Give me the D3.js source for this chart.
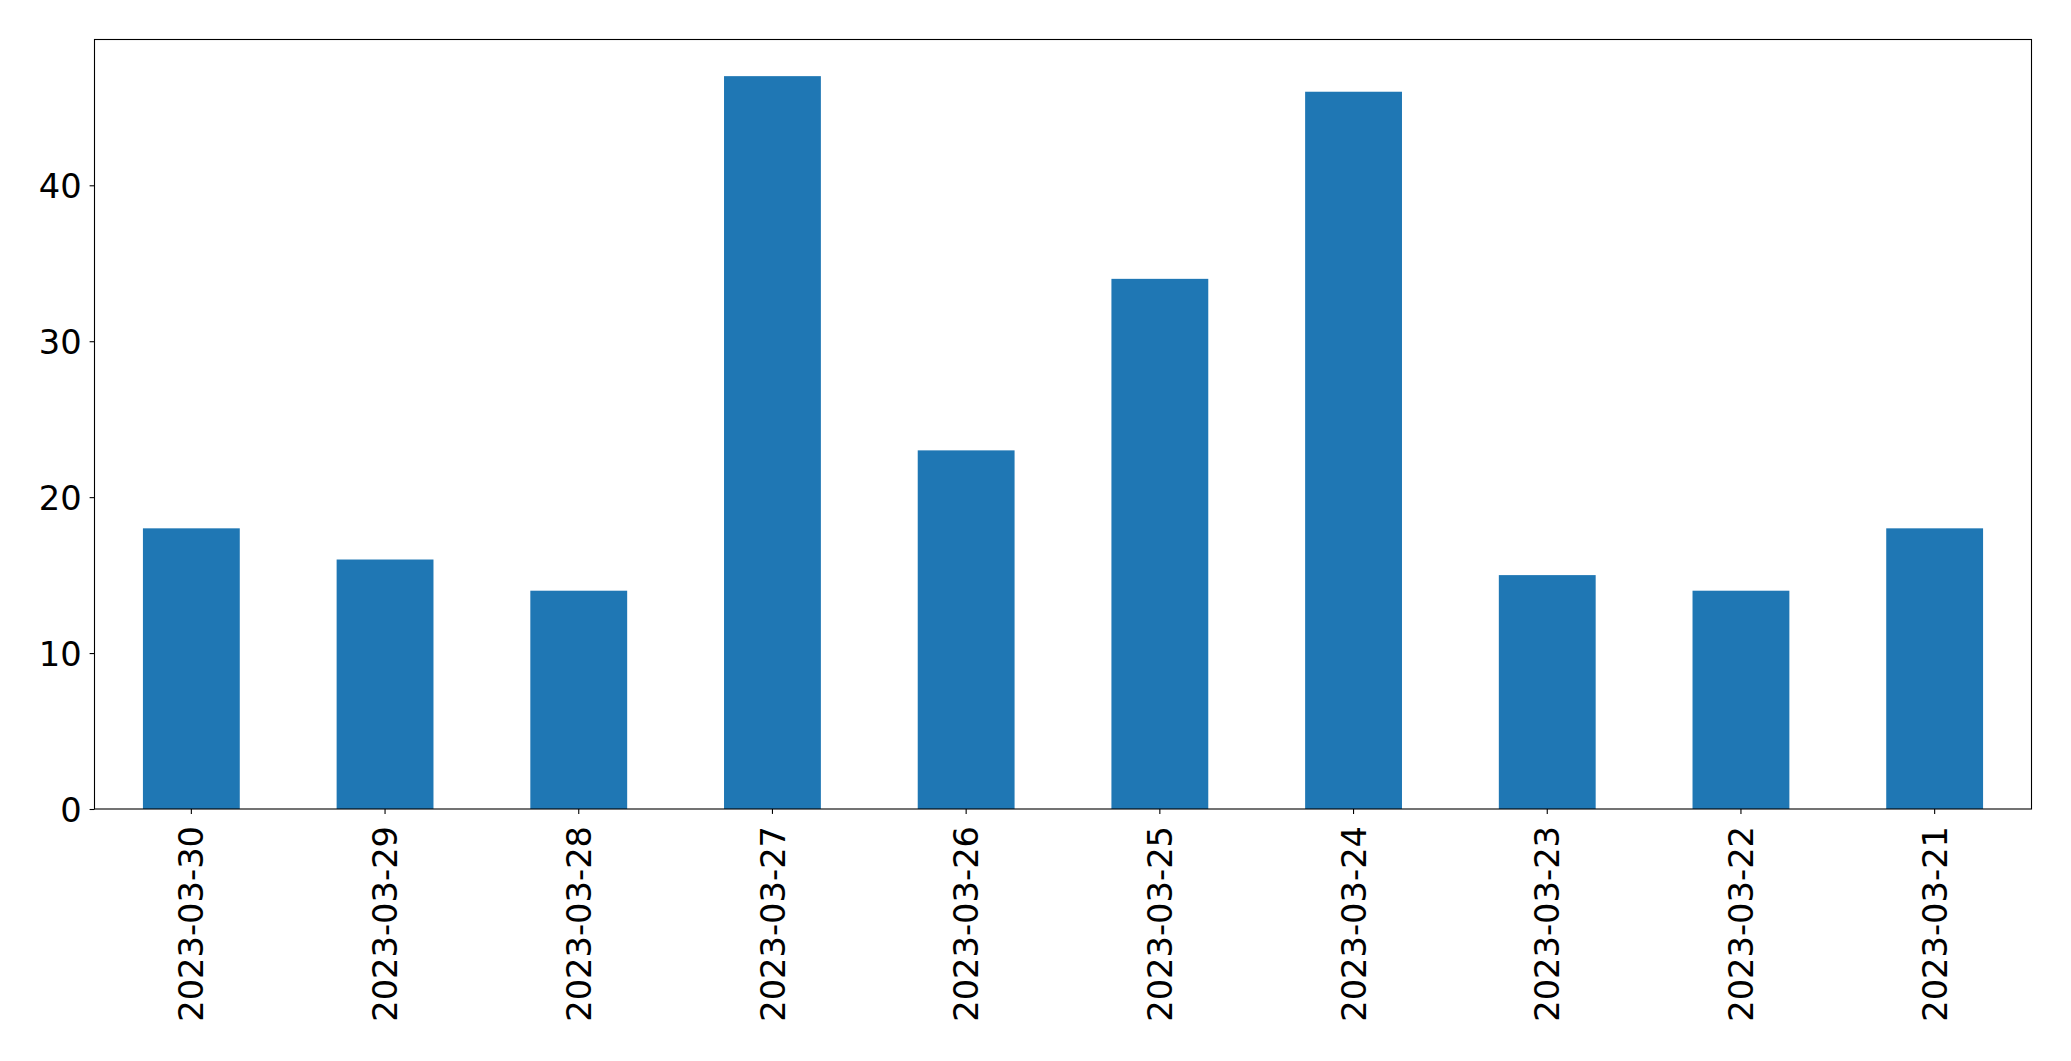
<!DOCTYPE html>
<html>
<head>
<meta charset="utf-8">
<script src="https://cdn.jsdelivr.net/npm/d3@7"></script>
<style>
html, body { margin: 0; padding: 0; background: #fff; }
svg { display: block; }
text { font-family: "DejaVu Sans", sans-serif; fill: #000; }
</style>
</head>
<body>
<script>
const categories = ["2023-03-30","2023-03-29","2023-03-28","2023-03-27","2023-03-26","2023-03-25","2023-03-24","2023-03-23","2023-03-22","2023-03-21"];
const values = [18,16,14,47,23,34,46,15,14,18];
const yTicks = [0,10,20,30,40];

const W = 2071, H = 1061;
const m = {left: 94.5, right: 2031.5, top: 39.5, bottom: 809};
const fs = 33.7;

const svg = d3.select("body").append("svg").attr("width", W).attr("height", H);

const x = d3.scaleBand().domain(categories).range([m.left, m.right]).paddingInner(0.5).paddingOuter(0.25);
const y = d3.scaleLinear().domain([0, d3.max(values) * 1.05]).range([m.bottom, m.top]);

svg.append("g").selectAll("rect").data(values).join("rect")
  .attr("x", (d, i) => x(categories[i]))
  .attr("width", x.bandwidth())
  .attr("y", d => y(d))
  .attr("height", d => y(0) - y(d))
  .attr("fill", "#1f77b4");

// frame
svg.append("rect").attr("x", m.left).attr("y", m.top)
  .attr("width", m.right - m.left).attr("height", m.bottom - m.top)
  .attr("fill", "none").attr("stroke", "#000").attr("stroke-width", 1.1);

// y axis
const yAxis = d3.axisLeft(y).tickValues(yTicks).tickSize(4.9).tickPadding(8).tickFormat(d3.format("d"));
const gy = svg.append("g").attr("transform", `translate(${m.left},0)`).call(yAxis);
gy.select(".domain").remove();
gy.selectAll("line").attr("stroke", "#000").attr("stroke-width", 1.1);
gy.selectAll("text").attr("font-size", fs).attr("font-family", "DejaVu Sans").attr("dy", "0.36em").attr("fill", "#000");

// x axis
const xAxis = d3.axisBottom(x).tickSize(4.9).tickSizeOuter(0);
const gx = svg.append("g").attr("transform", `translate(0,${m.bottom})`).call(xAxis);
gx.select(".domain").remove();
gx.selectAll("line").attr("stroke", "#000").attr("stroke-width", 1.1);
gx.selectAll("text")
  .attr("font-size", fs).attr("font-family", "DejaVu Sans").attr("fill", "#000")
  .attr("text-anchor", "end")
  .attr("x", 0).attr("y", 0).attr("dy", "0.36em")
  .attr("transform", "translate(0,17) rotate(-90)");
</script>
</body>
</html>
